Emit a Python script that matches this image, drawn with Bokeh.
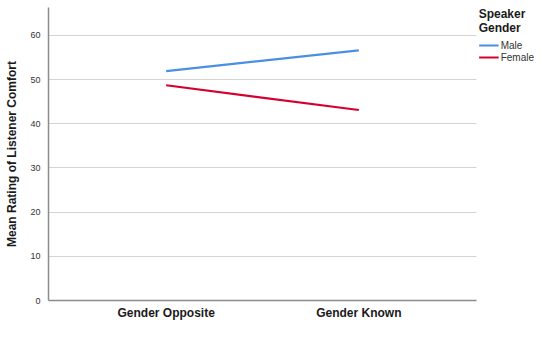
from bokeh.plotting import figure
from bokeh.models import Range1d, FixedTicker, Legend, LegendItem
from bokeh.embed import file_html
from bokeh.resources import INLINE

conditions = ["Gender Opposite", "Gender Known"]
male = [51.9, 56.6]
female = [48.7, 43.1]
y_ticks = [0, 10, 20, 30, 40, 50, 60]

xs = list(range(len(conditions)))
x_lo, x_hi = -0.611, 1.611

p = figure(width=534, height=323, output_backend="svg", toolbar_location=None,
           x_range=Range1d(x_lo, 1.912), y_range=Range1d(0, 66.3),
           min_border_left=48, min_border_top=7, min_border_bottom=23, min_border_right=0)
p.outline_line_color = None
p.background_fill_color = "white"

r1 = p.line(xs, male, line_color="#4a8fe0", line_width=2.2)
r2 = p.line(xs, female, line_color="#d5002f", line_width=2.2)

p.xaxis.ticker = FixedTicker(ticks=xs)
p.xaxis.bounds = (x_lo, x_hi)
p.xaxis.major_label_overrides = {i: c for i, c in enumerate(conditions)}
p.xaxis.major_tick_line_color = None
p.xaxis.major_tick_out = 0
p.xaxis.major_tick_in = 0
p.xaxis.minor_tick_line_color = None
p.xaxis.axis_line_color = "#8c8c8c"
p.xaxis.axis_line_width = 1.5
p.xaxis.major_label_text_font = "Liberation Sans"
p.xaxis.major_label_text_font_size = "12px"
p.xaxis.major_label_text_font_style = "bold"
p.xaxis.major_label_text_color = "#1a1a1a"
p.xaxis.major_label_standoff = 5

p.yaxis.ticker = FixedTicker(ticks=y_ticks)
p.yaxis.major_tick_line_color = None
p.yaxis.major_tick_out = 0
p.yaxis.major_tick_in = 0
p.yaxis.minor_tick_line_color = None
p.yaxis.axis_line_color = "#8c8c8c"
p.yaxis.axis_line_width = 1.5
p.yaxis.major_label_text_font = "Liberation Sans"
p.yaxis.major_label_text_font_size = "9px"
p.yaxis.major_label_text_color = "#333333"
p.yaxis.major_label_standoff = 8
p.yaxis.axis_label = "Mean Rating of Listener Comfort"
p.yaxis.axis_label_text_font = "Liberation Sans"
p.yaxis.axis_label_text_font_size = "12px"
p.yaxis.axis_label_text_font_style = "bold"
p.yaxis.axis_label_text_color = "#1a1a1a"
p.yaxis.axis_label_standoff = 8

p.xgrid.grid_line_color = None
p.ygrid.grid_line_color = "#d4d4d4"
p.ygrid.grid_line_width = 1.2
p.ygrid.cross_bounds = (x_lo, x_hi)

legend = Legend(items=[LegendItem(label="Male", renderers=[r1]),
                       LegendItem(label="Female", renderers=[r2])],
                location="top_right", padding=0, margin=0, spacing=0,
                glyph_width=20, glyph_height=12, label_standoff=2,
                label_text_font="Liberation Sans", label_text_font_size="10px",
                label_text_color="#333333", label_height=12,
                title="Speaker\nGender", title_text_font="Liberation Sans",
                title_text_font_size="12px", title_text_font_style="bold",
                title_text_color="#1a1a1a", title_standoff=4,
                background_fill_alpha=0, border_line_color=None)
p.add_layout(legend, "center")

open("out.html", "w").write(file_html(p, INLINE))
